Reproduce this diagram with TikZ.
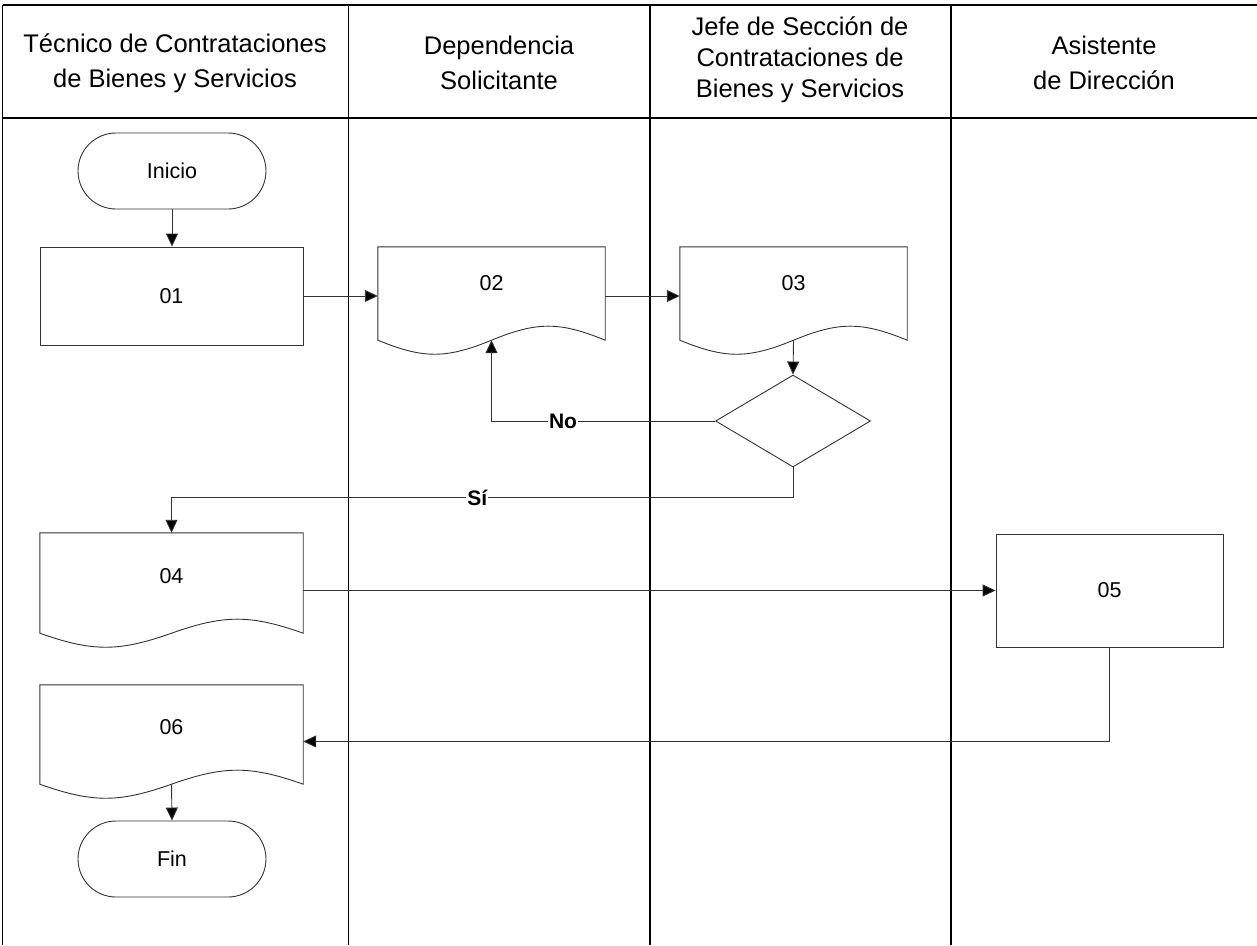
\documentclass[tikz,border=0pt]{standalone}
\usepackage{fontspec}
\setmainfont{Liberation Sans}
\usetikzlibrary{shapes.geometric,arrows.meta,calc}
\newcommand\docoutline[1]{%
  \draw[shapeline] (#1.south west) -- (#1.north west) -- (#1.north east) -- (#1.south east)
    .. controls ($(#1.south west)!0.8!(#1.south east)+(0,-18.7)$) and ($(#1.south west)!0.7!(#1.south east)+(0,-18.7)$) .. ($(#1.south west)!0.5!(#1.south east)$)
    .. controls ($(#1.south west)!0.3!(#1.south east)+(0,18.7)$) and ($(#1.south west)!0.2!(#1.south east)+(0,18.7)$) .. (#1.south west) -- cycle;}
\tikzset{
  lane/.style={line width=1.2pt, black},
  shapeline/.style={line width=0.9pt, draw=black!80},
  hdr/.style={align=center, font=\fontsize{25.5}{35}\selectfont, inner sep=0pt},
  hdrb/.style={align=center, font=\fontsize{25.5}{31}\selectfont, inner sep=0pt},
  body/.style={font=\fontsize{21.5}{25}\selectfont, text=black},
  term/.style={shapeline, rectangle, rounded corners=38pt, minimum width=188pt, minimum height=76pt, body},
  proc/.style={shapeline, rectangle, body},
  docnode/.style={rectangle, inner sep=0pt},
  decision/.style={shapeline, diamond, inner sep=0pt, minimum width=155pt, minimum height=92pt},
  arr/.style={line width=0.9pt, draw=black!80, -{Triangle[length=13pt,width=12pt,fill=black]}},
  cond/.style={fill=white, text=black, inner sep=1pt, font=\fontsize{21}{24}\selectfont\bfseries}
}
\begin{document}
\begin{tikzpicture}[x=1pt, y=-1pt]
\useasboundingbox (0,0) rectangle (1257,945);
% frame and lanes
\draw[lane] (2.5,5) -- (1257,5);
\draw[lane] (2.5,118) -- (1257,118);
\draw[lane] (2.5,5) -- (2.5,945);
\draw[lane] (348.5,5) -- (348.5,945);
\draw[lane] (650,5) -- (650,945);
\draw[lane] (951,5) -- (951,945);
% headers
\node[hdr] (h1) at (175,63) {Técnico de Contrataciones\\de Bienes y Servicios};
\node[hdr] (h2) at (499,63) {Dependencia\\Solicitante};
\node[hdrb] (h3) at (800,60) {Jefe de Sección de\\Contrataciones de\\Bienes y Servicios};
\node[hdr] (h4) at (1104,63) {Asistente\\de Dirección};
% shapes
\node[term] (ini) at (172,171) {Inicio};
\node[proc, minimum width=263pt, minimum height=98pt] (n01) at (171.5,296) {01};
\node[docnode, minimum width=227pt, minimum height=93pt, label={[body, yshift=10pt]center:02}] (d02) at (491.5,293.5) {};
\docoutline{d02}
\node[docnode, minimum width=227pt, minimum height=93pt, label={[body, yshift=10pt]center:03}] (d03) at (793.5,293.5) {};
\docoutline{d03}
\node[decision] (dec) at (793,421) {};
\node[docnode, minimum width=263pt, minimum height=100pt, label={[body, yshift=7pt]center:04}] (d04) at (171.5,583) {};
\docoutline{d04}
\node[proc, minimum width=227pt, minimum height=113pt] (n05) at (1109.5,590.5) {05};
\node[docnode, minimum width=263pt, minimum height=99pt, label={[body, yshift=7pt]center:06}] (d06) at (171.5,734.5) {};
\docoutline{d06}
\node[term] (fin) at (172,859) {Fin};
% connectors
\draw[arr] (ini.south) -- (ini.south |- n01.north);
\draw[arr] (n01.east) -- (n01.east -| d02.west);
\draw[arr] (d02.east |- n01.east) -- (d03.west |- n01.east);
\draw[arr] (d03.south) -- (dec.north);
\draw[arr] (dec.west) -| node[cond, pos=0.34] {No} (d02.south);
\coordinate (si) at ($(dec.south)+(0,30)$);
\draw[arr] (dec.south) -- (si) -| node[cond, pos=0.254] {Sí} (d04.north);
\draw[arr] (d04.east |- n05.west) -- (n05.west);
\coordinate (back) at ($(n05.south)+(0,94)$);
\draw[arr] (n05.south) -- (back) -- (back -| d06.east);
\draw[arr] (d06.south) -- (fin.north);
\end{tikzpicture}
\end{document}
